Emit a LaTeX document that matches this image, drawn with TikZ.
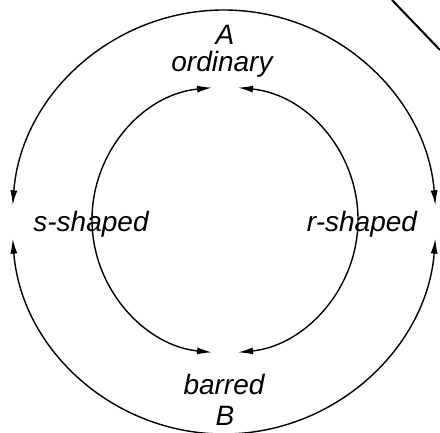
\documentclass[tikz,border=0pt]{standalone}
\usepackage{fontspec}
\setmainfont{Liberation Sans}
\usetikzlibrary{arrows.meta,calc}
\begin{document}
\begin{tikzpicture}[x=1pt,y=1pt,
    lbl/.style={font=\fontsize{28}{30}\selectfont\itshape, inner sep=0pt},
    ring/.style={line width=1.4pt, {Latex[length=15pt,width=7pt]}-{Latex[length=15pt,width=7pt]}}]
    \useasboundingbox (0,0) rectangle (440,432);
    \coordinate (outer) at (224,210);
    \coordinate (inner) at (225,212);

    \node [lbl] (A) at (225,397) {A};
    \node [lbl] (ordinary) at (222,368) {ordinary};
    \node [lbl] (sshaped) at (91,208) {s-shaped};
    \node [lbl] (rshaped) at (362,208) {r-shaped};
    \node [lbl] (barred) at (224,48) {barred};
    \node [lbl] (B) at (225,16) {B};

    % outer ring, arrows into the side labels
    \coordinate (o1) at ($(outer)+(175.5:212pt)$);
    \coordinate (o2) at ($(outer)+(184.5:212pt)$);
    \draw [ring] (o1) arc[start angle=175.5, end angle=4.5, radius=212pt];
    \draw [ring] (o2) arc[start angle=184.5, end angle=355.5, radius=212pt];

    % inner ring, arrows into ordinary and barred
    \coordinate (i1) at ($(inner)+(95.6:133pt)$);
    \coordinate (i2) at ($(inner)+(84.4:133pt)$);
    \draw [ring] (i1) arc[start angle=95.6, end angle=264.4, radius=133pt];
    \draw [ring] (i2) arc[start angle=84.4, end angle=-84.4, radius=133pt];

    \coordinate (e1) at (392,432);
    \coordinate (e2) at (440,382);
    \draw [line width=2pt] (e1) -- (e2);
\end{tikzpicture}
\end{document}
